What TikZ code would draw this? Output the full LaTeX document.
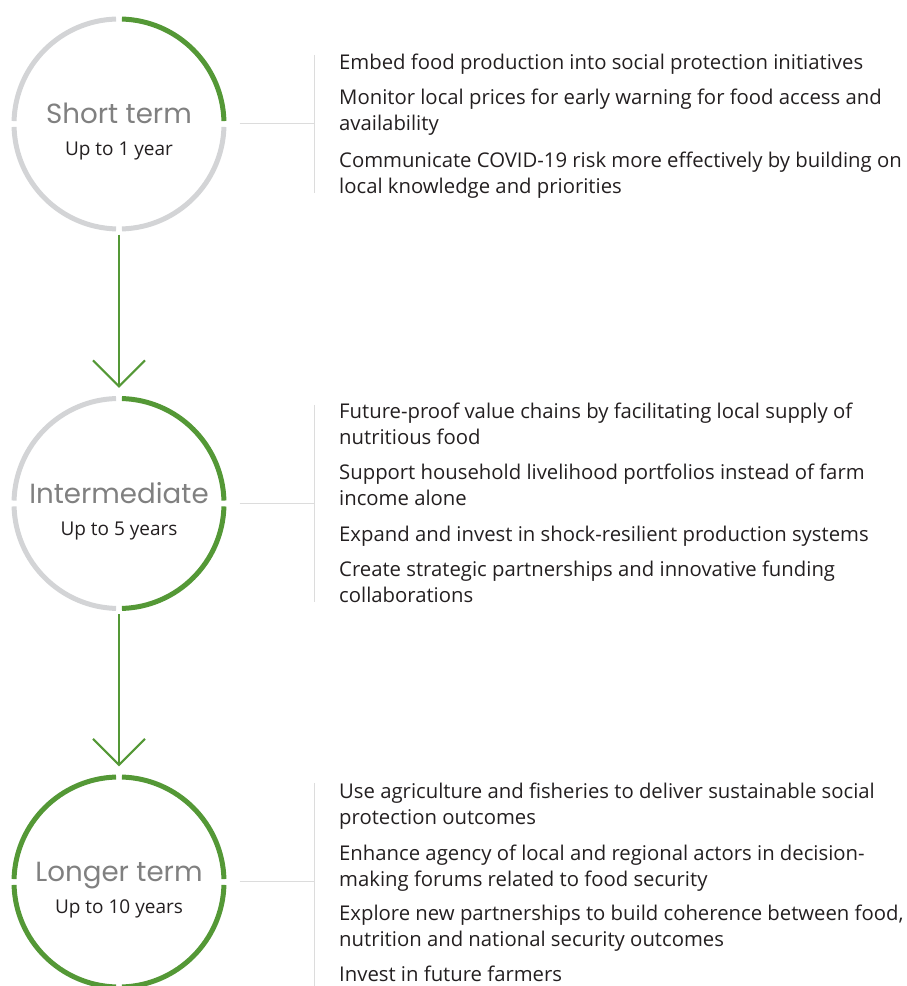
\documentclass[tikz,border=0pt]{standalone}
\usepackage{fontspec}
\setmainfont{Open Sans}
\newfontfamily\titlefont{Poppins}
\usetikzlibrary{arrows.meta}
\definecolor{ringgreen}{RGB}{84,152,54}
\definecolor{ringgray}{RGB}{211,212,214}
\definecolor{linegray}{RGB}{220,220,220}
\definecolor{bodytext}{RGB}{35,31,32}
\definecolor{titlegray}{RGB}{128,128,128}
\tikzset{
  ring/.style={circle, minimum size=215pt, inner sep=0pt},
  greenarc/.style={draw=ringgreen, line width=5pt},
  grayarc/.style={draw=ringgray, line width=5pt},
  ttl/.style={font=\titlefont\fontsize{27.7}{30}\selectfont, text=titlegray, anchor=base, inner sep=0pt},
  sub/.style={font=\fontsize{19}{22}\selectfont, text=bodytext, anchor=base, inner sep=0pt},
  item/.style={font=\fontsize{20.3}{26}\selectfont, text=bodytext, anchor=base west, align=left, inner sep=0pt},
  bracket/.style={draw=linegray, line width=1pt},
  flow/.style={draw=ringgreen, line width=2pt, -{Straight Barb[length=26pt,width=52pt,line width=2pt]}}
}
\newcommand{\quadarc}[3]{% center, start angle, style
  \draw[#3] (#1) ++({#2+1.6}:105) arc[start angle={#2+1.6}, end angle={#2+88.4}, radius=105];}
\begin{document}
\begin{tikzpicture}[x=1pt,y=1pt]
\useasboundingbox (0,0) rectangle (907,986);

% rings
\node[ring] (c1) at (119,862) {};
\node[ring] (c2) at (119,482.5) {};
\node[ring] (c3) at (119,104) {};

\quadarc{c1.center}{0}{greenarc}
\quadarc{c1.center}{90}{grayarc}
\quadarc{c1.center}{180}{grayarc}
\quadarc{c1.center}{270}{grayarc}

\quadarc{c2.center}{0}{greenarc}
\quadarc{c2.center}{90}{grayarc}
\quadarc{c2.center}{180}{grayarc}
\quadarc{c2.center}{270}{greenarc}

\quadarc{c3.center}{0}{greenarc}
\quadarc{c3.center}{90}{greenarc}
\quadarc{c3.center}{180}{greenarc}
\quadarc{c3.center}{270}{greenarc}

% titles
\node[ttl] (t1) at (c1.center) {Short term};
\node[sub] (s1) at ([yshift=-32pt]c1.center) {Up to 1 year};
\node[ttl] (t2) at (c2.center) {Intermediate};
\node[sub] (s2) at ([yshift=-32pt]c2.center) {Up to 5 years};
\node[ttl] (t3) at (c3.center) {Longer term};
\node[sub] (s3) at ([yshift=-32pt]c3.center) {Up to 10 years};

% arrows
\draw[flow] ([yshift=-3pt]c1.south) -- ([yshift=8pt]c2.north);
\draw[flow] ([yshift=-3pt]c2.south) -- ([yshift=8pt]c3.north);

% brackets
\coordinate (b1) at (314,862);
\coordinate (b1t) at (314,931);
\coordinate (b1b) at (314,793);
\draw[bracket] ([xshift=13pt]c1.east) -- (b1);
\draw[bracket] (b1t) -- (b1b);

\coordinate (b2) at (314,482.5);
\coordinate (b2t) at (314,581);
\coordinate (b2b) at (314,384);
\draw[bracket] ([xshift=13pt]c2.east) -- (b2);
\draw[bracket] (b2t) -- (b2b);

\coordinate (b3) at (314,104);
\coordinate (b3t) at (314,203);
\coordinate (b3b) at (314,0);
\draw[bracket] ([xshift=13pt]c3.east) -- (b3);
\draw[bracket] (b3t) -- (b3b);

% items group 1 (base of a two-line node = baseline of its last line)
\node[item] (i11) at (339,916) {Embed food production into social protection initiatives};
\node[item] (i12) at (339,855) {Monitor local prices for early warning for food access and\\availability};
\node[item] (i13) at (339,792) {Communicate COVID-19 risk more effectively by building on\\local knowledge and priorities};

% items group 2
\node[item] (i21) at (339,541) {Future-proof value chains by facilitating local supply of\\nutritious food};
\node[item] (i22) at (339,480) {Support household livelihood portfolios instead of farm\\income alone};
\node[item] (i23) at (339,444) {Expand and invest in shock-resilient production systems};
\node[item] (i24) at (339,383) {Create strategic partnerships and innovative funding\\collaborations};

% items group 3
\node[item] (i31) at (339,161) {Use agriculture and fisheries to deliver sustainable social\\protection outcomes};
\node[item] (i32) at (339,99) {Enhance agency of local and regional actors in decision-\\making forums related to food security};
\node[item] (i33) at (339,39) {Explore new partnerships to build coherence between food,\\nutrition and national security outcomes};
\node[item] (i34) at (339,5) {Invest in future farmers};
\end{tikzpicture}
\end{document}
